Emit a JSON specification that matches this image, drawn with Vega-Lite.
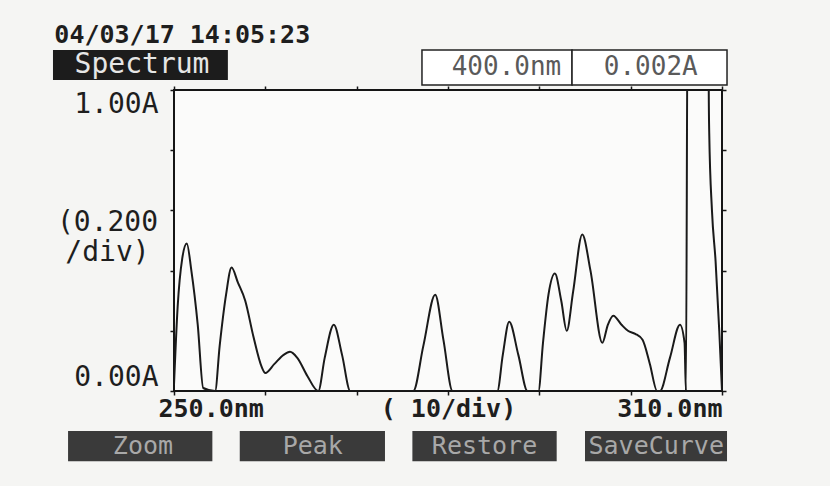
{
  "$schema": "https://vega.github.io/schema/vega-lite/v6.json",
  "width": 548,
  "height": 301,
  "autosize": "none",
  "padding": {"left": 174, "top": 90, "right": 108, "bottom": 95},
  "background": "#f5f5f3",
  "config": {
    "view": {"stroke": "#151515", "strokeWidth": 2, "fill": "#fbfbfa"},
    "font": "DejaVu Sans Mono"
  },
  "datasets": {
    "curve": [
      {"nm": 250.0, "A": 0.02}, {"nm": 250.4, "A": 0.28}, {"nm": 250.9, "A": 0.44}, {"nm": 251.4, "A": 0.49},
      {"nm": 251.9, "A": 0.40}, {"nm": 252.6, "A": 0.22}, {"nm": 253.2, "A": 0.01}, {"nm": 254.5, "A": 0.0},
      {"nm": 255.0, "A": 0.15}, {"nm": 255.7, "A": 0.32}, {"nm": 256.3, "A": 0.41}, {"nm": 257.0, "A": 0.36},
      {"nm": 257.8, "A": 0.30}, {"nm": 258.7, "A": 0.18}, {"nm": 259.6, "A": 0.08}, {"nm": 260.0, "A": 0.06},
      {"nm": 261.0, "A": 0.09}, {"nm": 262.0, "A": 0.12}, {"nm": 262.7, "A": 0.13}, {"nm": 263.5, "A": 0.11},
      {"nm": 264.6, "A": 0.05}, {"nm": 265.8, "A": 0.0}, {"nm": 266.5, "A": 0.11}, {"nm": 267.5, "A": 0.22},
      {"nm": 268.4, "A": 0.12}, {"nm": 269.3, "A": 0.0}, {"nm": 276.2, "A": 0.0}, {"nm": 277.3, "A": 0.15},
      {"nm": 278.6, "A": 0.32}, {"nm": 279.5, "A": 0.17}, {"nm": 280.5, "A": 0.0}, {"nm": 285.4, "A": 0.0},
      {"nm": 286.0, "A": 0.12}, {"nm": 286.7, "A": 0.23}, {"nm": 287.7, "A": 0.12}, {"nm": 288.7, "A": 0.0},
      {"nm": 289.9, "A": 0.0}, {"nm": 290.4, "A": 0.16}, {"nm": 291.0, "A": 0.32}, {"nm": 291.7, "A": 0.39},
      {"nm": 292.4, "A": 0.30}, {"nm": 293.0, "A": 0.20}, {"nm": 293.7, "A": 0.33}, {"nm": 294.7, "A": 0.52},
      {"nm": 295.6, "A": 0.40}, {"nm": 296.9, "A": 0.16}, {"nm": 297.5, "A": 0.22}, {"nm": 298.1, "A": 0.25},
      {"nm": 299.0, "A": 0.22}, {"nm": 299.7, "A": 0.20}, {"nm": 300.5, "A": 0.19}, {"nm": 301.3, "A": 0.17},
      {"nm": 302.1, "A": 0.09}, {"nm": 302.9, "A": 0.0}, {"nm": 303.2, "A": 0.0}, {"nm": 304.3, "A": 0.11},
      {"nm": 305.4, "A": 0.22}, {"nm": 305.9, "A": 0.16}, {"nm": 306.05, "A": 0.0}, {"nm": 306.25, "A": 1.4},
      {"nm": 308.5, "A": 1.4}, {"nm": 308.55, "A": 1.0}, {"nm": 308.6, "A": 0.86}, {"nm": 308.9, "A": 0.6},
      {"nm": 309.3, "A": 0.43}, {"nm": 309.7, "A": 0.2}, {"nm": 310.0, "A": 0.0}
    ],
    "boxes": [
      {"kind": "panel", "x1": 236.75, "x2": 255.9, "y1": 1.033, "y2": 1.133},
      {"kind": "readout", "x1": 277.15, "x2": 293.58, "y1": 1.017, "y2": 1.133},
      {"kind": "readout", "x1": 293.58, "x2": 310.55, "y1": 1.017, "y2": 1.133},
      {"kind": "button", "x1": 238.4, "x2": 254.2, "y1": -0.133, "y2": -0.233},
      {"kind": "button", "x1": 257.2, "x2": 273.1, "y1": -0.133, "y2": -0.233},
      {"kind": "button", "x1": 276.1, "x2": 291.9, "y1": -0.133, "y2": -0.233},
      {"kind": "button", "x1": 295.0, "x2": 310.55, "y1": -0.133, "y2": -0.233}
    ],
    "labels": [
      {"kind": "date", "text": "04/03/17 14:05:23", "x": 236.9, "y": 1.183},
      {"kind": "panel", "text": "Spectrum", "x": 246.5, "y": 1.083},
      {"kind": "readout", "text": "400.0nm", "x": 286.4, "y": 1.076},
      {"kind": "readout", "text": "0.002A", "x": 302.2, "y": 1.076},
      {"kind": "button", "text": "Zoom", "x": 246.6, "y": -0.183},
      {"kind": "button", "text": "Peak", "x": 265.2, "y": -0.183},
      {"kind": "button", "text": "Restore", "x": 284.0, "y": -0.183},
      {"kind": "button", "text": "SaveCurve", "x": 302.8, "y": -0.183}
    ]
  },
  "resolve": {"axis": {"x": "independent", "y": "independent"}},
  "layer": [
    {
      "data": {"name": "boxes"},
      "transform": [{"filter": "datum.kind === 'panel'"}],
      "mark": {"type": "rect", "fill": "#1c1c1c"},
      "encoding": {
        "x": {"field": "x1", "type": "quantitative", "scale": {"domain": [250, 310], "nice": false, "zero": false},
              "axis": {"orient": "top", "values": [250, 260, 270, 280, 290, 300, 310], "labels": false, "domain": false, "grid": false, "tickSize": 4, "tickColor": "#151515", "tickWidth": 1.5, "title": null}},
        "x2": {"field": "x2"},
        "y": {"field": "y1", "type": "quantitative", "scale": {"domain": [0, 1], "nice": false, "zero": false},
              "axis": {"orient": "right", "values": [0, 0.2, 0.4, 0.6, 0.8, 1], "labels": false, "domain": false, "grid": false, "tickSize": 4, "tickColor": "#151515", "tickWidth": 1.5, "title": null}},
        "y2": {"field": "y2"}
      }
    },
    {
      "data": {"name": "boxes"},
      "transform": [{"filter": "datum.kind === 'button'"}],
      "mark": {"type": "rect", "fill": "#3a3a3a"},
      "encoding": {
        "x": {"field": "x1", "type": "quantitative", "axis": null},
        "x2": {"field": "x2"},
        "y": {"field": "y1", "type": "quantitative", "axis": null},
        "y2": {"field": "y2"}
      }
    },
    {
      "data": {"name": "boxes"},
      "transform": [{"filter": "datum.kind === 'readout'"}],
      "mark": {"type": "rect", "fill": "#ffffff", "stroke": "#222222", "strokeWidth": 1.5},
      "encoding": {
        "x": {"field": "x1", "type": "quantitative", "axis": null},
        "x2": {"field": "x2"},
        "y": {"field": "y1", "type": "quantitative", "axis": null},
        "y2": {"field": "y2"}
      }
    },
    {
      "data": {"name": "labels"},
      "transform": [{"filter": "datum.kind === 'date'"}],
      "mark": {"type": "text", "align": "left", "baseline": "middle", "fontSize": 25, "fontWeight": "bold", "color": "#1e1e1e"},
      "encoding": {
        "x": {"field": "x", "type": "quantitative", "axis": null},
        "y": {"field": "y", "type": "quantitative", "axis": null},
        "text": {"field": "text"}
      }
    },
    {
      "data": {"name": "labels"},
      "transform": [{"filter": "datum.kind === 'panel'"}],
      "mark": {"type": "text", "align": "center", "baseline": "middle", "fontSize": 28, "color": "#e6e6e6"},
      "encoding": {
        "x": {"field": "x", "type": "quantitative", "axis": null},
        "y": {"field": "y", "type": "quantitative", "axis": null},
        "text": {"field": "text"}
      }
    },
    {
      "data": {"name": "labels"},
      "transform": [{"filter": "datum.kind === 'readout'"}],
      "mark": {"type": "text", "align": "center", "baseline": "middle", "fontSize": 26, "color": "#5a5a5a"},
      "encoding": {
        "x": {"field": "x", "type": "quantitative", "axis": null},
        "y": {"field": "y", "type": "quantitative", "axis": null},
        "text": {"field": "text"}
      }
    },
    {
      "data": {"name": "labels"},
      "transform": [{"filter": "datum.kind === 'button'"}],
      "mark": {"type": "text", "align": "center", "baseline": "middle", "fontSize": 25, "color": "#a8a8a8"},
      "encoding": {
        "x": {"field": "x", "type": "quantitative", "axis": null},
        "y": {"field": "y", "type": "quantitative", "axis": null},
        "text": {"field": "text"}
      }
    },
    {
      "data": {"name": "curve"},
      "mark": {"type": "line", "color": "#1a1a1a", "strokeWidth": 2, "clip": true, "interpolate": "monotone"},
      "encoding": {
        "x": {"field": "nm", "type": "quantitative",
              "axis": {"orient": "bottom", "title": null, "grid": false, "domain": false,
                       "values": [250, 260, 270, 280, 290, 300, 310],
                       "labelExpr": "datum.value === 250 ? '250.0nm' : datum.value === 280 ? '( 10/div)' : datum.value === 310 ? '310.0nm' : ''",
                       "labelFlush": true, "labelFont": "DejaVu Sans Mono", "labelFontSize": 25, "labelFontWeight": "bold", "labelColor": "#1e1e1e",
                       "labelPadding": 1, "tickSize": 4, "tickColor": "#151515", "tickWidth": 1.5,
                       "labelOffset": {"condition": {"test": "datum.value === 250", "value": -16}, "value": 0}}},
        "y": {"field": "A", "type": "quantitative",
              "axis": {"orient": "left", "title": null, "grid": false, "domain": false,
                       "values": [0, 0.2, 0.4, 0.56, 0.6, 0.8, 1],
                       "labelExpr": "datum.value === 0 ? '0.00A' : datum.value === 1 ? '1.00A' : datum.value === 0.56 ? ['(0.200', '/div)'] : ''",
                       "labelFlush": true, "labelFont": "DejaVu Sans Mono", "labelFontSize": 28, "labelColor": "#1e1e1e",
                       "labelPadding": {"condition": {"test": "datum.value === 0.56", "value": 63}, "value": 12},
                       "tickSize": 4, "tickColor": "#151515", "tickWidth": 1.5,
                       "labelAlign": {"condition": {"test": "datum.value === 0.56", "value": "center"}, "value": "right"},
                       "tickOpacity": {"condition": {"test": "datum.value === 0.56", "value": 0}, "value": 1}}}
      }
    }
  ]
}
